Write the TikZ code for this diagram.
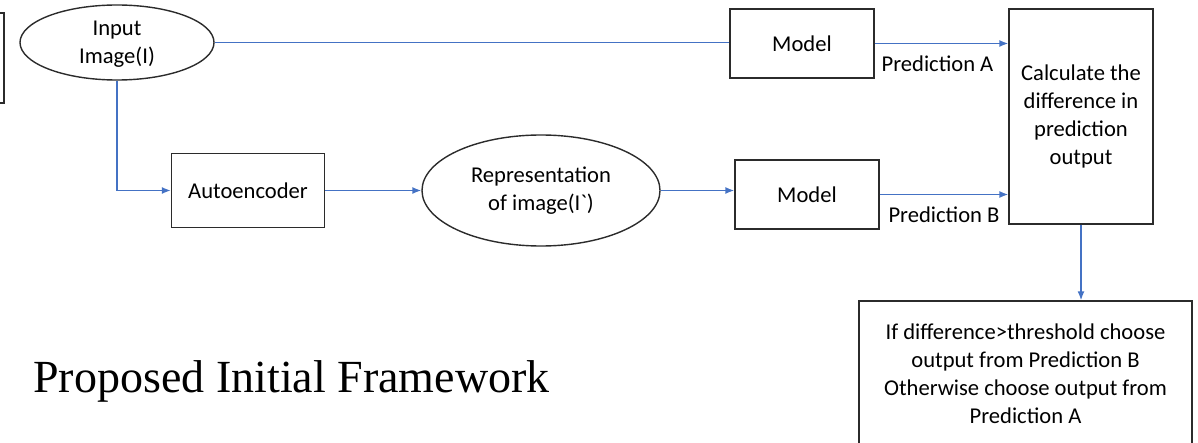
\documentclass[tikz,border=0pt]{standalone}
\usepackage{fontspec}
\setmainfont{Carlito}[Ligatures=TeXOff]
\newfontfamily\titlefont{Liberation Serif}
\usetikzlibrary{arrows.meta,shapes.geometric}
\definecolor{conn}{HTML}{4472C4}
\definecolor{edge}{HTML}{2B2B2B}
\tikzset{
  boxnode/.style={draw=edge, line width=0.7pt, rectangle, align=center, inner sep=0pt,
    font=\fontsize{11.3}{14}\selectfont},
  ellnode/.style={draw=edge, line width=0.7pt, ellipse, align=center, inner sep=0pt,
    font=\fontsize{11.3}{14}\selectfont},
  lbl/.style={font=\fontsize{11.3}{14}\selectfont, inner sep=0pt},
  conline/.style={draw=conn, line width=0.7pt},
  conarrow/.style={conline, -{Latex[length=4.5pt,width=3.5pt]}},
}
\begin{document}
\begin{tikzpicture}[x=0.5pt,y=-0.5pt]
\useasboundingbox (0,0) rectangle (1198,443);
\clip (0,0) rectangle (1198,443);
% partial box at left edge
\node[boxnode, minimum width=50pt, minimum height=45pt] (left) at (-46,58) {};
% nodes
\node[ellnode, minimum width=97pt, minimum height=37.5pt] (input) at (117,42.5) {\rule{0pt}{9pt}Input\\Image(I)};
\node[boxnode, minimum width=72pt, minimum height=34.5pt] (modelA) at (802,43.5) {Model};
\node[boxnode, minimum width=72pt, minimum height=34.5pt] (modelB) at (807,194.5) {Model};
\node[boxnode, minimum width=76.5pt, minimum height=37pt] (autoenc) at (248,190.5) {Autoencoder};
\node[ellnode, minimum width=119pt, minimum height=55.5pt] (rep) at (541,190.5) {Representation\\of image(I`)};
\node[boxnode, minimum width=72pt, minimum height=107.5pt] (calc) at (1081,116.5) {Calculate the\\difference in\\prediction\\output};
\node[boxnode, minimum width=166.5pt, minimum height=72.5pt] (final) at (1025.5,373.5) {If difference>threshold choose\\output from Prediction B\\Otherwise choose output from\\Prediction A};
% title
\node[inner sep=0pt, anchor=base west, font=\titlefont\fontsize{23}{27}\selectfont] (title) at (33,392) {Proposed Initial Framework};
% connectors
\draw[conline] (input.east) -- (modelA.west |- input.east);
\draw[conarrow] (input.south) |- (autoenc.west);
\draw[conarrow] (autoenc.east) -- (autoenc.east -| rep.west);
\draw[conarrow] (rep.east) -- (modelB.west |- rep.east);
\draw[conarrow] (modelA.east) -- (modelA.east -| calc.west) node[lbl, pos=0.47, below=6pt] (pa) {Prediction A};
\draw[conarrow] (modelB.east) -- (modelB.east -| calc.west) node[lbl, pos=0.5, below=6pt] (pb) {Prediction B};
\draw[conarrow] (calc.south) -- (calc.south |- final.north);
\end{tikzpicture}
\end{document}
